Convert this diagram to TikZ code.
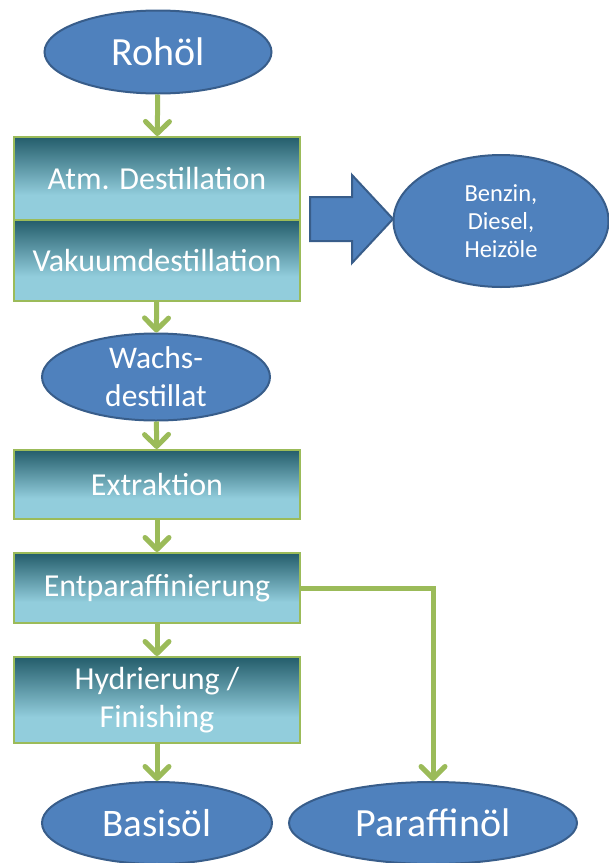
\documentclass[tikz,border=0pt]{standalone}
\usepackage{fontspec}
\setmainfont{Carlito}
\usetikzlibrary{arrows.meta,shapes.geometric}
\definecolor{oelblau}{HTML}{4F81BD}
\definecolor{oelrand}{HTML}{385D8A}
\definecolor{gruen}{HTML}{9BBB59}
\definecolor{tealdunkel}{HTML}{245D6B}
\definecolor{teallicht}{HTML}{92CDDC}
\pgfdeclareverticalshading{prozessverlauf}{100bp}{color(0bp)=(teallicht); color(40bp)=(teallicht); color(75bp)=(tealdunkel); color(100bp)=(tealdunkel)}

\begin{document}
\begin{tikzpicture}[x=1pt,y=-1pt,
  produkt/.style={ellipse,draw=oelrand,line width=2pt,fill=oelblau,text=white,inner sep=0pt,align=center},
  prozess/.style={rectangle,draw=gruen,line width=2pt,shading=prozessverlauf,minimum width=286pt,text=white,align=center,font=\fontsize{32}{38}\selectfont},
  fluss/.style={draw=gruen,line width=5pt,-{Straight Barb[length=12pt,width=24pt,round]}}]
\useasboundingbox (0,0) rectangle (609,863);

% Produkte
\node[produkt,minimum width=227pt,minimum height=83pt,font=\fontsize{40}{44}\selectfont] (rohoel) at (158,52) {Rohöl};
\node[produkt,minimum width=215pt,minimum height=132pt,font=\fontsize{24.5}{28}\selectfont] (benzin) at (501,221) {Benzin,\\Diesel,\\Heizöle};
\node[produkt,minimum width=228pt,minimum height=87pt,font=\fontsize{31.5}{38}\selectfont] (wachs) at (156,377) {Wachs-\\destillat};
\node[produkt,minimum width=230pt,minimum height=82pt,font=\fontsize{39}{44}\selectfont] (basis) at (157,823) {Basisöl};
\node[produkt,minimum width=288pt,minimum height=82pt,font=\fontsize{40}{44}\selectfont] (paraffin) at (433,823) {Paraffinöl};

% Prozessschritte
\node[prozess,minimum height=83pt] (atm) at (157,178.5) {Atm. Destillation};
\node[prozess,minimum height=81pt] (vakuum) at (157,260.5) {Vakuumdestillation};
\node[prozess,minimum height=69pt] (extraktion) at (157,484.5) {Extraktion};
\node[prozess,minimum height=70pt] (entpar) at (157,588) {Entparaffinierung};
\node[prozess,minimum height=86pt] (hydrier) at (157,700) {Hydrierung /\\Finishing};

% Blockpfeil zu den Kraftstoffen
\coordinate (pfeil) at (310,219);
\draw[draw=oelrand,line width=2pt,fill=oelblau,line join=miter]
  (pfeil) ++(0,-22) -- ++(42,0) -- ++(0,-22) -- ++(41,44) -- ++(-41,44) -- ++(0,-22) -- ++(-42,0) -- cycle;

% Verbindungen
\draw[fluss] (rohoel) -- (atm);
\draw[fluss] (vakuum) -- (wachs);
\draw[fluss] (wachs) -- (extraktion);
\draw[fluss] (extraktion) -- (entpar);
\draw[fluss] (entpar) -- (hydrier);
\draw[fluss] (hydrier) -- (basis);
\draw[fluss] (entpar.east) -| (paraffin.north);
\end{tikzpicture}
\end{document}
